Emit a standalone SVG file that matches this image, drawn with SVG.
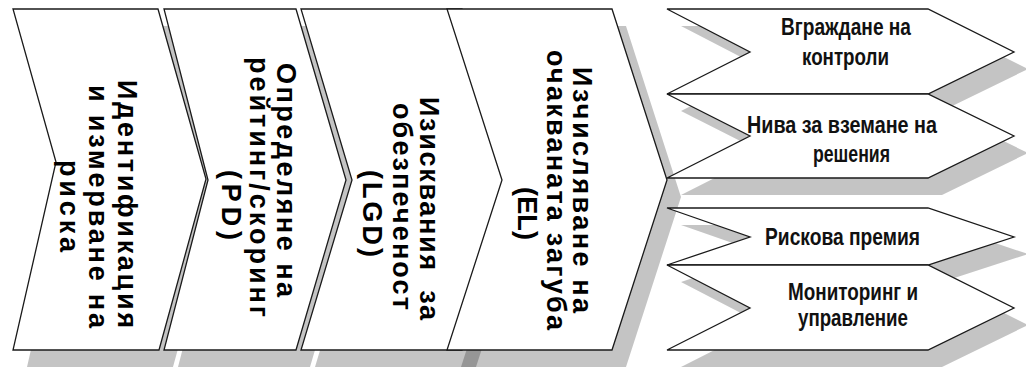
<svg xmlns="http://www.w3.org/2000/svg" width="1026" height="374" viewBox="0 0 1026 374">
  <style>
    .shape { fill: #ffffff; stroke: #1a1a1a; stroke-width: 1.3; stroke-linejoin: miter; }
    .shadow { fill: #000000; fill-opacity: 0.23; }
    .vt { font-family: "Liberation Sans", Arial, sans-serif; font-weight: bold; font-size: 27px; fill: #000000; }
    .ht { font-family: "Liberation Sans Narrow", "Liberation Sans", Arial, sans-serif; font-weight: bold; font-size: 24px; fill: #111111; }
  </style>

  <rect x="0" y="0" width="1026" height="374" fill="#ffffff"/>

  <!-- drop shadows, all offset (14,17) behind the shapes -->
  <g id="shadows" transform="translate(14,17)">
    <polygon class="shadow" points="13,9 158,9 206,179 159,350 13,350 56,162"/>
    <polygon class="shadow" points="164,9 296,9 346,180 296,350 164,350 208,180"/>
    <polygon class="shadow" points="301,9 462,9 517,180 462,350 301,350 352,180"/>
    <polygon class="shadow" points="447,9 612,9 667,180 612,350 447,350 502,180"/>
    <polygon class="shadow" points="667,9 928,9 1014,52 928,94 667,94 750,52"/>
    <polygon class="shadow" points="667,94 928,94 1014,136 928,178 667,178 750,136"/>
    <polygon class="shadow" points="667,208 928,208 1014,237 928,265 667,265 750,237"/>
    <polygon class="shadow" points="667,265 928,265 1014,308 928,350 667,350 750,308"/>
  </g>

  <!-- process chevrons, text runs top to bottom -->
  <g id="step1">
    <polygon class="shape" points="13,9 158,9 206,179 159,350 13,350 56,162"/>
    <text class="vt" transform="translate(118,0) rotate(90)" x="80" y="0" textLength="248" lengthAdjust="spacing">Идентификация</text>
    <text class="vt" transform="translate(89,0) rotate(90)" x="85" y="0" textLength="243" lengthAdjust="spacing">и измерване на</text>
    <text class="vt" transform="translate(60,0) rotate(90)" x="160" y="0" textLength="92" lengthAdjust="spacing">риска</text>
  </g>

  <g id="step2">
    <polygon class="shape" points="164,9 296,9 346,180 296,350 164,350 208,180"/>
    <text class="vt" transform="translate(277,0) rotate(90)" x="63" y="0" textLength="234" lengthAdjust="spacing">Определяне на</text>
    <text class="vt" transform="translate(250,0) rotate(90)" x="57" y="0" textLength="260" lengthAdjust="spacing">рейтинг/скоринг</text>
    <text class="vt" transform="translate(222,0) rotate(90)" x="170" y="0" textLength="70" lengthAdjust="spacing">(PD)</text>
  </g>

  <g id="step3">
    <polygon class="shape" points="301,9 462,9 517,180 462,350 301,350 352,180"/>
    <text class="vt" xml:space="preserve" transform="translate(420,0) rotate(90)" x="97" y="0" textLength="223" lengthAdjust="spacing">Изисквания  за</text>
    <text class="vt" transform="translate(393,0) rotate(90)" x="103" y="0" textLength="207" lengthAdjust="spacing">обезпеченост</text>
    <text class="vt" transform="translate(363,0) rotate(90)" x="170" y="0" textLength="87" lengthAdjust="spacing">(LGD)</text>
  </g>

  <g id="step4">
    <polygon class="shape" points="447,9 612,9 667,180 612,350 447,350 502,180"/>
    <text class="vt" transform="translate(573,0) rotate(90)" x="67" y="0" textLength="246" lengthAdjust="spacing">Изчисляване на</text>
    <text class="vt" transform="translate(547,0) rotate(90)" x="50" y="0" textLength="280" lengthAdjust="spacing">очакваната загуба</text>
    <text class="vt" transform="translate(518,0) rotate(90)" x="187" y="0" textLength="53" lengthAdjust="spacing">(EL)</text>
  </g>

  <!-- outcome arrows -->
  <g id="outcome1">
    <polygon class="shape" points="667,9 928,9 1014,52 928,94 667,94 750,52"/>
    <text class="ht" x="781" y="35" textLength="130" lengthAdjust="spacingAndGlyphs">Вграждане на</text>
    <text class="ht" x="802" y="65" textLength="87" lengthAdjust="spacingAndGlyphs">контроли</text>
  </g>

  <g id="outcome2">
    <polygon class="shape" points="667,94 928,94 1014,136 928,178 667,178 750,136"/>
    <text class="ht" x="747" y="133" textLength="190" lengthAdjust="spacingAndGlyphs">Нива за вземане на</text>
    <text class="ht" x="813" y="162" textLength="77" lengthAdjust="spacingAndGlyphs">решения</text>
  </g>

  <g id="outcome3">
    <polygon class="shape" points="667,208 928,208 1014,237 928,265 667,265 750,237"/>
    <text class="ht" x="765" y="245" textLength="155" lengthAdjust="spacingAndGlyphs">Рискова премия</text>
  </g>

  <g id="outcome4">
    <polygon class="shape" points="667,265 928,265 1014,308 928,350 667,350 750,308"/>
    <text class="ht" x="788" y="300" textLength="130" lengthAdjust="spacingAndGlyphs">Мониторинг и</text>
    <text class="ht" x="798" y="326" textLength="110" lengthAdjust="spacingAndGlyphs">управление</text>
  </g>

  <g id="connectors"/>
</svg>
